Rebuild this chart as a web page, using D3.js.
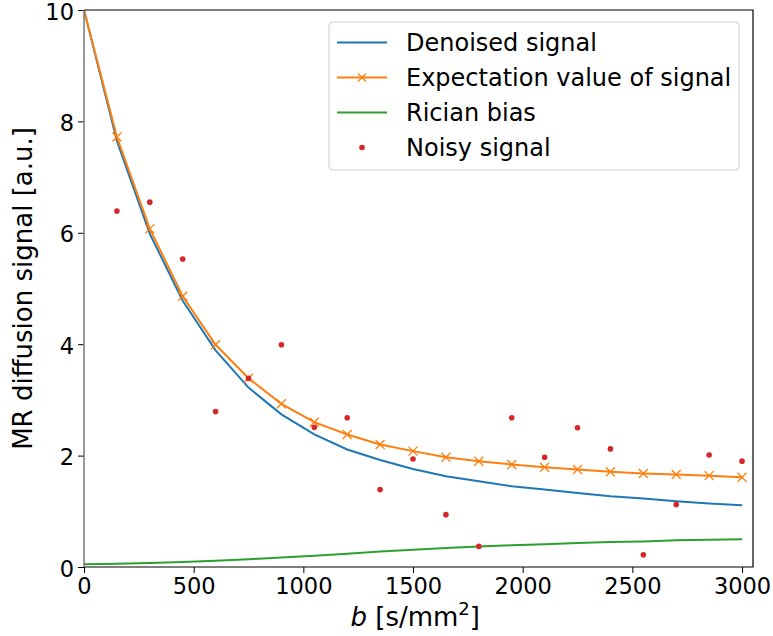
<!DOCTYPE html>
<html>
<head>
<meta charset="utf-8">
<script src="https://cdn.jsdelivr.net/npm/d3@7"></script>
<style>
  body { margin: 0; background: #fff; }
  svg { font-family: "DejaVu Sans", sans-serif; }
</style>
</head>
<body>
<svg id="chart" width="773" height="636"></svg>
<script>
// b values [s/mm^2]
const bValues = [0, 150, 300, 450, 600, 750, 900, 1050, 1200, 1350, 1500,
    1650, 1800, 1950, 2100, 2250, 2400, 2550, 2700, 2850, 3000];

// series
const denoised = [10, 7.65, 5.98, 4.78, 3.89, 3.22, 2.74, 2.38, 2.11, 1.92, 1.76,
    1.63, 1.54, 1.45, 1.39, 1.33, 1.27, 1.23, 1.18, 1.14, 1.11];
const expectation = [10, 7.72, 6.07, 4.86, 3.99, 3.39, 2.93, 2.60, 2.38, 2.20, 2.08,
    1.97, 1.90, 1.84, 1.79, 1.75, 1.71, 1.68, 1.66, 1.64, 1.61];
const ricianBias = [0.05, 0.06, 0.07, 0.09, 0.11, 0.14, 0.17, 0.20, 0.24, 0.28, 0.31,
    0.34, 0.37, 0.39, 0.41, 0.43, 0.45, 0.46, 0.48, 0.49, 0.50];
const noisy = [null, 6.39, 6.55, 5.53, 2.79, 3.39, 3.99, 2.51, 2.68, 1.39, 1.94,
    0.94, 0.37, 2.68, 1.97, 2.50, 2.12, 0.22, 1.12, 2.01, 1.90];

const xTicks = [0, 500, 1000, 1500, 2000, 2500, 3000];
const yTicks = [0, 2, 4, 6, 8, 10];

const legendLabels = ["Denoised signal", "Expectation value of signal", "Rician bias", "Noisy signal"];
const colors = { blue: "#1f77b4", orange: "#ff7f0e", green: "#2ca02c", red: "#d62728" };

// margins & dimensions
const margin = { top: 10, right: 20, bottom: 69, left: 84 };
const width = 773 - margin.left - margin.right;
const height = 636 - margin.top - margin.bottom;
const tickFont = 22.5;
const legendFont = 24;
const labelFont = 26;

const x = d3.scaleLinear().domain([0, 3050]).range([0, width]);
const y = d3.scaleLinear().domain([0, 10]).range([height, 0]);

const svg = d3.select("#chart")
    .append("g")
    .attr("transform", `translate(${margin.left},${margin.top})`);

svg.append("defs").append("clipPath").attr("id", "clip")
    .append("rect").attr("width", width).attr("height", height);

const plot = svg.append("g").attr("clip-path", "url(#clip)");

const line = series => d3.line()
    .x((d, i) => x(bValues[i]))
    .y(d => y(d))(series);

plot.append("path").attr("d", line(ricianBias))
    .attr("fill", "none").attr("stroke", colors.green).attr("stroke-width", 2);
plot.append("path").attr("d", line(denoised))
    .attr("fill", "none").attr("stroke", colors.blue).attr("stroke-width", 2);
plot.append("path").attr("d", line(expectation))
    .attr("fill", "none").attr("stroke", colors.orange).attr("stroke-width", 2);

// x markers on the expectation curve
const xMark = (cx, cy, s) => `M${cx - s},${cy - s}L${cx + s},${cy + s}M${cx - s},${cy + s}L${cx + s},${cy - s}`;
plot.selectAll(".xm")
    .data(expectation.map((v, i) => [bValues[i], v]).filter(d => d[0] > 0))
    .join("path")
    .attr("d", d => xMark(x(d[0]), y(d[1]), 4.5))
    .attr("stroke", colors.orange).attr("stroke-width", 1.3).attr("fill", "none");

// noisy points
plot.selectAll(".dot")
    .data(noisy.map((v, i) => [bValues[i], v]).filter(d => d[1] !== null))
    .join("circle")
    .attr("cx", d => x(d[0]))
    .attr("cy", d => y(d[1]))
    .attr("r", 2.8)
    .attr("fill", colors.red);

// axes
const xAxis = svg.append("g")
    .attr("transform", `translate(0,${height})`)
    .call(d3.axisBottom(x).tickValues(xTicks).tickFormat(d3.format("d"))
        .tickSize(6).tickPadding(5).tickSizeOuter(0));
const yAxis = svg.append("g")
    .call(d3.axisLeft(y).tickValues(yTicks).tickFormat(d3.format("d"))
        .tickSize(6).tickPadding(4).tickSizeOuter(0));

[xAxis, yAxis].forEach(a => {
    a.selectAll("text").style("font-size", tickFont + "px").attr("fill", "#000")
        .style("font-family", "DejaVu Sans");
    a.selectAll("line").attr("stroke", "#000").attr("stroke-width", 1);
    a.select(".domain").remove();
});
yAxis.selectAll("text").attr("dy", "0.4em");

// spines (left one renders grey in the original)
svg.append("path")
    .attr("d", `M0,${height}H${width}V0H0`)
    .attr("fill", "none").attr("stroke", "#000").attr("stroke-width", 1.2);
svg.append("line")
    .attr("x1", 0).attr("x2", 0).attr("y1", 0).attr("y2", height)
    .attr("stroke", "#777").attr("stroke-width", 1.5);

// axis labels
const xl = svg.append("text")
    .attr("x", x(1510))
    .attr("y", height + 59)
    .attr("text-anchor", "middle")
    .style("font-size", labelFont + "px");
xl.append("tspan").style("font-style", "italic").text("b");
xl.append("tspan").text(" [s/mm");
xl.append("tspan").attr("dy", -11).style("font-size", "18px").text("2");
xl.append("tspan").attr("dy", 11).text("]");

svg.append("text")
    .attr("transform", "rotate(-90)")
    .attr("x", -height / 2)
    .attr("y", -52)
    .attr("text-anchor", "middle")
    .style("font-size", labelFont + "px")
    .text("MR diffusion signal [a.u.]");

// legend
const legend = svg.append("g").attr("transform", "translate(245,12)");
legend.append("rect")
    .attr("width", 410).attr("height", 148).attr("rx", 4)
    .attr("fill", "#fff").attr("fill-opacity", 0.8)
    .attr("stroke", "#ccc").attr("stroke-width", 1);

const legendColors = [colors.blue, colors.orange, colors.green, colors.red];
legendLabels.forEach((label, i) => {
    const cy = 20.5 + i * 35;
    const row = legend.append("g");
    if (i < 3) {
        row.append("line").attr("x1", 8).attr("x2", 58).attr("y1", cy).attr("y2", cy)
            .attr("stroke", legendColors[i]).attr("stroke-width", 2);
        if (i === 1) row.append("path").attr("d", xMark(33, cy, 4))
            .attr("stroke", legendColors[i]).attr("stroke-width", 1.3);
    } else {
        row.append("circle").attr("cx", 33).attr("cy", cy).attr("r", 2.8).attr("fill", legendColors[i]);
    }
    row.append("text").attr("x", 77).attr("y", cy + 8.5)
        .style("font-size", legendFont + "px").text(label);
});
</script>
</body>
</html>
